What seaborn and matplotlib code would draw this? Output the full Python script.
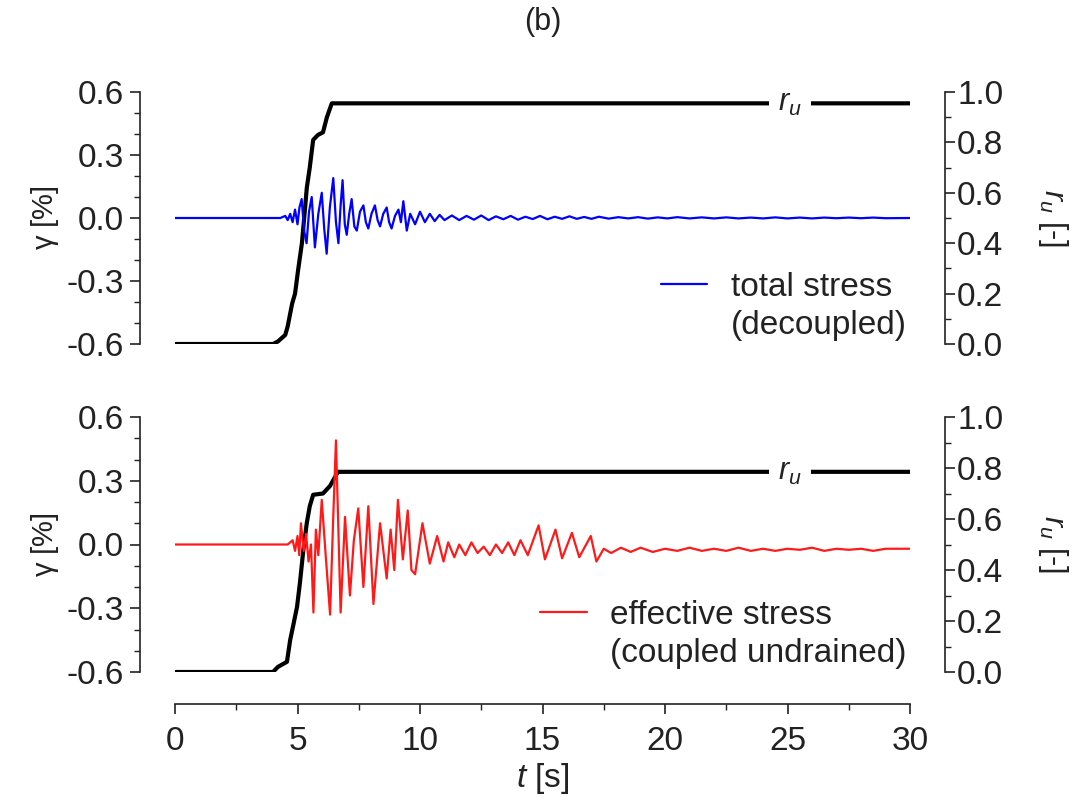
import matplotlib
matplotlib.use("Agg")
import matplotlib.pyplot as plt
from matplotlib.ticker import MultipleLocator, FormatStrFormatter
from matplotlib.lines import Line2D
import numpy as np
import pandas as pd
import seaborn as sns

# ---- pore pressure ratio r_u ----
t_ru_total = [0, 4.0, 4.2, 4.5, 4.6, 4.78, 4.9, 5.02, 5.18, 5.3, 5.38, 5.5,
              5.64, 5.84, 6.04, 6.2, 6.4, 30]
ru_total = [0, 0, 0.01, 0.036, 0.07, 0.16, 0.2, 0.29, 0.4, 0.53, 0.62, 0.70,
            0.81, 0.83, 0.84, 0.90, 0.955, 0.955]

t_ru_eff = [0, 4.0, 4.2, 4.57, 4.7, 4.82, 4.98, 5.1, 5.24, 5.38, 5.5, 5.64,
            6.04, 6.33, 6.65, 30]
ru_eff = [0, 0, 0.02, 0.04, 0.125, 0.18, 0.255, 0.35, 0.48, 0.585, 0.65, 0.695,
          0.70, 0.73, 0.785, 0.785]

# ---- shear strain, total stress (decoupled) ----
t_gam_total = [0, 4.3, 4.5, 4.6, 4.7, 4.8, 4.9, 5.0, 5.08, 5.17, 5.27, 5.37,
               5.47, 5.58, 5.71, 5.85, 5.99, 6.09, 6.19, 6.32, 6.46, 6.57, 6.67,
               6.76, 6.84, 6.93, 7.01, 7.11, 7.21, 7.32, 7.42, 7.55, 7.69, 7.79,
               7.89, 8.02, 8.16, 8.27, 8.37, 8.5, 8.64, 8.74, 8.84, 8.98, 9.12,
               9.22, 9.32, 9.46, 9.6, 9.8, 10.0, 10.2, 10.4, 10.6, 10.8, 11.0,
               11.3, 11.6, 11.9, 12.2, 12.5, 12.8, 13.1, 13.4, 13.7, 14.0, 14.3,
               14.6, 14.9, 15.2, 15.5, 15.8, 16.1, 16.4, 16.7, 17.0, 17.3, 17.7,
               18.1, 18.5, 18.9, 19.3, 19.7, 20.1, 20.5, 21.0, 21.5, 22.0, 22.5,
               23.0, 23.5, 24.0, 24.5, 25.0, 25.5, 26.0, 26.5, 27.0, 27.5, 28.0,
               28.5, 29.0, 30.0]
gam_total = [0, 0, 0.01, -0.01, 0.02, -0.02, 0.04, -0.03, 0.05, 0.09, -0.06,
             -0.12, 0.03, 0.10, -0.14, 0.02, 0.12, -0.05, -0.17, 0.05, 0.19,
             -0.02, -0.12, 0.06, 0.18, -0.03, -0.08, 0.02, 0.09, -0.04, -0.06,
             0.03, 0.06, -0.02, -0.05, 0.02, 0.06, -0.01, -0.04, 0.02, 0.05,
             -0.02, -0.05, 0.01, 0.04, -0.02, 0.08, -0.06, 0.02, -0.03, 0.03,
             -0.02, 0.02, -0.015, 0.015, -0.01, 0.012, -0.01, 0.01, -0.008,
             0.012, -0.01, 0.008, -0.006, 0.01, -0.008, 0.006, -0.005, 0.01,
             -0.006, 0.006, -0.004, 0.008, -0.004, 0.005, -0.004, 0.006, -0.003,
             0.004, -0.002, 0.004, -0.003, 0.003, -0.002, 0.004, -0.002, 0.003,
             -0.002, 0.003, -0.002, 0.002, -0.002, 0.003, -0.002, 0.002, -0.002,
             0.002, -0.001, 0.002, -0.001, 0.002, -0.001, 0.0]

# ---- shear strain, effective stress (coupled undrained) ----
t_gam_eff = [0, 4.6, 4.8, 4.9, 5.0, 5.07, 5.14, 5.25, 5.35, 5.45, 5.55, 5.65,
             5.75, 5.85, 5.99, 6.15, 6.33, 6.45, 6.57, 6.76, 6.94, 7.14, 7.3,
             7.48, 7.69, 7.89, 8.10, 8.37, 8.64, 8.8, 8.95, 9.1, 9.3, 9.5, 9.65,
             9.8, 10.1, 10.4, 10.7, 10.96, 11.15, 11.4, 11.6, 11.85, 12.1, 12.35,
             12.6, 12.85, 13.1, 13.35, 13.6, 13.85, 14.1, 14.4, 14.84, 15.1,
             15.53, 15.8, 16.2, 16.5, 16.97, 17.2, 17.5, 17.8, 18.2, 18.6, 19.0,
             19.5, 20.0, 20.5, 21.0, 21.5, 22.0, 22.5, 23.0, 23.5, 24.0, 24.5,
             25.0, 25.5, 26.0, 26.5, 27.0, 27.5, 28.0, 28.5, 29.0, 30.0]
gam_eff = [0, 0, 0.02, -0.03, 0.04, -0.05, 0.10, -0.03, 0.05, -0.08, 0.0,
           -0.32, 0.07, -0.05, 0.21, -0.05, -0.33, 0.1, 0.49, -0.32, 0.13, -0.24,
           0.02, 0.17, -0.20, 0.18, -0.28, 0.10, -0.16, 0.07, -0.12, 0.21, -0.07,
           0.16, -0.12, -0.14, 0.10, -0.09, 0.04, -0.08, 0.01, -0.06, 0.0, -0.05,
           0.01, -0.04, -0.01, -0.05, 0.0, -0.04, 0.01, -0.05, 0.02, -0.05, 0.09,
           -0.07, 0.07, -0.065, 0.055, -0.06, 0.04, -0.08, -0.02, -0.04, -0.015,
           -0.035, -0.015, -0.035, -0.02, -0.03, -0.015, -0.03, -0.02, -0.03,
           -0.015, -0.03, -0.02, -0.03, -0.02, -0.025, -0.015, -0.03, -0.02,
           -0.025, -0.02, -0.03, -0.02, -0.02]

gam_ticks = [-0.6, -0.3, 0.0, 0.3, 0.6]
ru_ticks = [0.0, 0.2, 0.4, 0.6, 0.8, 1.0]
t_ticks = [0, 5, 10, 15, 20, 25, 30]

sns.set_theme(style="ticks")
plt.rcParams["font.family"] = ["Liberation Sans", "DejaVu Sans"]
plt.rcParams["mathtext.fontset"] = "custom"
plt.rcParams["mathtext.rm"] = "Liberation Sans"
plt.rcParams["mathtext.it"] = "Liberation Sans:italic"

FS = 24
INK = "#222222"
fig = plt.figure(figsize=(10.86, 8.07), dpi=100)
W, H = 1086, 807
ax_top = fig.add_axes([175 / W, 1 - 344 / H, 735 / W, 252 / H])
ax_bot = fig.add_axes([175 / W, 1 - 672 / H, 735 / W, 255 / H])


def style_pair(ax, axr, show_x):
    ax.set_xlim(0, 30)
    ax.set_ylim(-0.6, 0.6)
    axr.set_ylim(0, 1.0)
    for s in ["top", "right"]:
        ax.spines[s].set_visible(False)
    for s in ["top", "left", "bottom"]:
        axr.spines[s].set_visible(False)
    ax.spines["left"].set_position(("outward", 25))
    axr.spines["right"].set_position(("outward", 25))
    for sp in [ax.spines["left"], ax.spines["bottom"], axr.spines["right"]]:
        sp.set_linewidth(1.2)
        sp.set_color(INK)
    ax.set_yticks(gam_ticks)
    ax.yaxis.set_minor_locator(MultipleLocator(0.1))
    ax.yaxis.set_major_formatter(FormatStrFormatter("%.1f"))
    axr.set_yticks(ru_ticks)
    axr.yaxis.set_minor_locator(MultipleLocator(0.1))
    axr.yaxis.set_major_formatter(FormatStrFormatter("%.1f"))
    for a in (ax, axr):
        a.tick_params(which="major", direction="out", length=7, width=1.2,
                      labelsize=FS, color=INK, labelcolor=INK)
        a.tick_params(which="minor", direction="out", length=4, width=1.0,
                      color=INK)
    ax.tick_params(axis="y", pad=5)
    axr.tick_params(axis="y", pad=2)
    if show_x:
        ax.spines["bottom"].set_position(("outward", 23))
        ax.set_xticks(t_ticks)
        ax.xaxis.set_minor_locator(MultipleLocator(2.5))
    else:
        ax.spines["bottom"].set_visible(False)
        ax.tick_params(axis="x", which="both", bottom=False, labelbottom=False)
    axr.tick_params(axis="x", which="both", bottom=False, labelbottom=False)
    ax.set_ylabel(r"$\mathrm{\gamma}$ [%]", fontsize=21, labelpad=4, color=INK)
    axr.set_ylabel(r"$r_u$ [-]", fontsize=22, rotation=270, labelpad=48,
                   color=INK)
    ax.patch.set_visible(False)


panels = [
    (ax_top, t_gam_total, gam_total, "#0000ff", "total stress", "(decoupled)",
     t_ru_total, ru_total, False),
    (ax_bot, t_gam_eff, gam_eff, "#ff1a1a", "effective stress",
     "(coupled undrained)", t_ru_eff, ru_eff, True),
]

for ax, tg, gv, col, lab1, lab2, tr, rv, show_x in panels:
    axr = ax.twinx()
    axr.set_zorder(ax.get_zorder() - 1)
    ax.set_zorder(axr.get_zorder() + 1)
    gdf = pd.DataFrame({"t": tg, "gamma": gv})
    sns.lineplot(data=gdf, x="t", y="gamma", ax=ax, color=col, lw=1.6,
                 estimator=None, sort=False)
    rdf = pd.DataFrame({"t": tr, "ru": rv})
    sns.lineplot(data=rdf, x="t", y="ru", ax=axr, color="black", lw=3.0,
                 estimator=None, sort=False)
    axr.text(25.1, rv[-1], r"$r_u$", fontsize=22, ha="center", va="center",
             color=INK,
             bbox=dict(boxstyle="square,pad=0.3", fc="white", ec="none"))
    style_pair(ax, axr, show_x)
    ax.set_xlabel("")
    handles = [Line2D([], [], color=col, lw=1.6),
               Line2D([], [], color="none")]
    leg = ax.legend(handles, [lab1, lab2], loc="lower right", frameon=False,
                    fontsize=FS, handlelength=1.4, handletextpad=0.7,
                    labelspacing=0.2, borderaxespad=0.0, borderpad=0.1,
                    bbox_to_anchor=(1.0, 0.0))
    for txt in leg.get_texts():
        txt.set_color(INK)

ax_bot.set_xlabel(r"$t$ [s]", fontsize=24, labelpad=3, color=INK)
ax_bot.tick_params(axis="x", labelsize=FS, pad=9)
fig.text(543 / W, 1 - 22 / H, "(b)", fontsize=22, ha="center", va="center",
         color=INK)

fig.savefig("out.png", dpi=100, facecolor="white")
